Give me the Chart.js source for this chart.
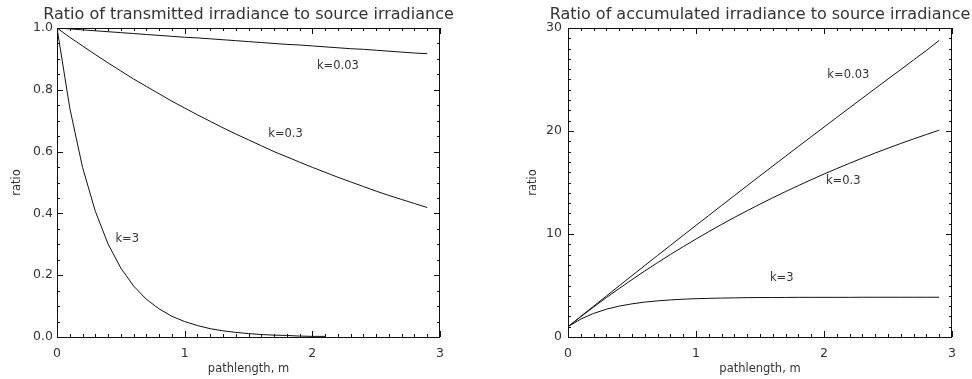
<!DOCTYPE html>
<html>
<head>
<meta charset="utf-8">
<script src="https://cdn.jsdelivr.net/npm/chart.js@4.4.1/dist/chart.umd.min.js"></script>
<style>
  html, body { margin: 0; padding: 0; background: #fff; }
  #wrap { position: relative; width: 972px; height: 379px; overflow: hidden; background: #fff; }
  canvas { position: absolute; top: 0; }
  #c1 { left: 0; }
  #c2 { left: 486px; }
</style>
</head>
<body>
<div id="wrap">
  <canvas id="c1" width="486" height="379"></canvas>
  <canvas id="c2" width="486" height="379"></canvas>
</div>
<script>
// ---------------- data ----------------
const pathlength = [0.0,0.1,0.2,0.3,0.4,0.5,0.6,0.7,0.8,0.9,1.0,1.1,1.2,1.3,1.4,1.5,1.6,1.7,1.8,1.9,2.0,2.1,2.2,2.3,2.4,2.5,2.6,2.7,2.8,2.9];

const transK003 = [1.000,0.997,0.994,0.991,0.988,0.985,0.982,0.979,0.976,0.973,0.970,0.968,0.965,0.962,0.959,0.956,0.953,0.950,0.947,0.945,0.942,0.939,0.936,0.933,0.931,0.928,0.925,0.922,0.919,0.917];
const transK03  = [1.000,0.970,0.942,0.914,0.887,0.861,0.835,0.811,0.787,0.763,0.741,0.719,0.698,0.677,0.657,0.638,0.619,0.600,0.583,0.566,0.549,0.533,0.517,0.502,0.487,0.472,0.458,0.445,0.432,0.419];
const transK3   = [1.000,0.741,0.549,0.407,0.301,0.223,0.165,0.122,0.091,0.067,0.050,0.037,0.027,0.020,0.015,0.011,0.008,0.006,0.005,0.003,0.002,0.002];

const accK003 = [1.00,2.00,2.99,3.98,4.97,5.96,6.94,7.92,8.89,9.87,10.84,11.80,12.77,13.73,14.69,15.65,16.60,17.55,18.50,19.44,20.38,21.32,22.26,23.19,24.12,25.05,25.97,26.90,27.82,28.80];
const accK03  = [1.00,1.97,2.91,3.83,4.71,5.57,6.41,7.22,8.01,8.77,9.51,10.23,10.93,11.61,12.26,12.90,13.52,14.12,14.70,15.27,15.82,16.35,16.87,17.37,17.86,18.33,18.79,19.23,19.66,20.08];
const accK3   = [1.00,1.74,2.29,2.70,3.00,3.22,3.39,3.51,3.60,3.67,3.72,3.75,3.78,3.80,3.82,3.83,3.83,3.84,3.85,3.85,3.85,3.85,3.85,3.86,3.86,3.86,3.86,3.86,3.86,3.86];

const seriesNames = ['k=0.03', 'k=0.3', 'k=3'];

const xTickLabels      = ['0', '1', '2', '3'];
const yTickLabelsLeft  = ['0.0', '0.2', '0.4', '0.6', '0.8', '1.0'];
const yTickLabelsRight = ['0', '10', '20', '30'];

const titleLeft  = 'Ratio of transmitted irradiance to source irradiance';
const titleRight = 'Ratio of accumulated irradiance to source irradiance';
const xTitle = 'pathlength, m';
const yTitle = 'ratio';

// ---------------- styling / helpers ----------------
Chart.defaults.font.family = '"DejaVu Sans", sans-serif';
Chart.defaults.color = '#333';
const INK = '#111';
const TEXT = '#333';

function pts(ys) { return ys.map((y, i) => ({ x: pathlength[i], y })); }

function ds(label, ys) {
  return {
    label, data: pts(ys),
    borderColor: INK, borderWidth: 1, pointRadius: 0, tension: 0, fill: false
  };
}

// inward tick marks on all four sides + frame + panel title, drawn from the chart's scales
const frameTicks = {
  id: 'frameTicks',
  afterDraw(chart, args, o) {
    const { ctx, chartArea: { left, right, top, bottom } } = chart;
    const xs = chart.scales.x, ys = chart.scales.y;
    ctx.save();
    ctx.strokeStyle = INK;
    ctx.lineWidth = 1;
    ctx.beginPath();
    const nx = Math.round((xs.max - xs.min) / o.xMinor);
    const perX = Math.round(o.xMajor / o.xMinor);
    for (let i = 0; i <= nx; i++) {
      const v = xs.min + i * o.xMinor;
      const len = (i % perX === 0) ? 6 : 3;
      const px = Math.round(xs.getPixelForValue(v)) + 0.5;
      ctx.moveTo(px, bottom); ctx.lineTo(px, bottom - len);
      ctx.moveTo(px, top); ctx.lineTo(px, top + len);
    }
    const ny = Math.round((ys.max - ys.min) / o.yMinor);
    const perY = Math.round(o.yMajor / o.yMinor);
    for (let i = 0; i <= ny; i++) {
      const v = ys.min + i * o.yMinor;
      const len = (i % perY === 0) ? 6 : 3;
      const py = Math.round(ys.getPixelForValue(v)) + 0.5;
      ctx.moveTo(left, py); ctx.lineTo(left + len, py);
      ctx.moveTo(right, py); ctx.lineTo(right - len, py);
    }
    ctx.stroke();
    ctx.strokeRect(Math.round(left) + 0.5, Math.round(top) + 0.5,
                   Math.round(right - left) - 1, Math.round(bottom - top));
    // curve labels placed in data coordinates
    ctx.fillStyle = TEXT;
    ctx.font = '11.5px "DejaVu Sans", sans-serif';
    ctx.textAlign = 'center';
    ctx.textBaseline = 'middle';
    o.labels.forEach(l => {
      ctx.fillText(l.text, xs.getPixelForValue(l.x), ys.getPixelForValue(l.y));
    });
    // panel title centred over the plot area
    ctx.font = '16px "DejaVu Sans", sans-serif';
    ctx.fillText(o.title, (left + right) / 2, 15);
    ctx.restore();
  }
};

function makeChart(id, cfg) {
  return new Chart(document.getElementById(id), {
    type: 'line',
    data: { datasets: cfg.datasets },
    options: {
      responsive: false,
      animation: false,
      events: [],
      layout: { padding: { left: 0, right: cfg.padRight, top: 28, bottom: 0 } },
      plugins: {
        legend: { display: false },
        tooltip: { enabled: false },
        title: { display: false },
        frameTicks: cfg.ticks
      },
      scales: {
        x: {
          type: 'linear', min: 0, max: 3,
          grid: { display: false, drawTicks: false },
          border: { display: false },
          ticks: {
            stepSize: 1, padding: 9, color: TEXT, font: { size: 12.5 },
            callback: (v) => xTickLabels[Math.round(v)]
          },
          title: { display: true, text: xTitle, color: TEXT, font: { size: 11.5 }, padding: { top: 0, bottom: 3 } },
          afterFit(s) { s.height = 42; }
        },
        y: {
          type: 'linear', min: cfg.yMin, max: cfg.yMax,
          grid: { display: false, drawTicks: false },
          border: { display: false },
          ticks: {
            stepSize: cfg.yStep, padding: cfg.yTickPad, color: TEXT, font: { size: 12.5 },
            callback: (v) => cfg.yLabels[Math.round((v - cfg.yMin) / cfg.yStep)]
          },
          title: { display: true, text: yTitle, color: TEXT, font: { size: 11.5 }, padding: { top: cfg.yTitlePad, bottom: 0 } },
          afterFit(s) { s.width = cfg.yWidth; }
        }
      }
    },
    plugins: [frameTicks]
  });
}

makeChart('c1', {
  datasets: [ds(seriesNames[0], transK003), ds(seriesNames[1], transK03), ds(seriesNames[2], transK3)],
  padRight: 46, yWidth: 57, yTitlePad: 10, yTickPad: 4,
  yMin: 0, yMax: 1, yStep: 0.2, yLabels: yTickLabelsLeft,
  ticks: {
    title: titleLeft,
    xMinor: 0.1, xMajor: 1, yMinor: 0.05, yMajor: 0.2,
    labels: [
      { text: seriesNames[0], x: 2.2, y: 0.877 },
      { text: seriesNames[1], x: 1.79, y: 0.657 },
      { text: seriesNames[2], x: 0.55, y: 0.317 }
    ]
  }
});

makeChart('c2', {
  datasets: [ds(seriesNames[0], accK003), ds(seriesNames[1], accK03), ds(seriesNames[2], accK3)],
  padRight: 20, yWidth: 82, yTitlePad: 40, yTickPad: 6,
  yMin: 0, yMax: 30, yStep: 10, yLabels: yTickLabelsRight,
  ticks: {
    title: titleRight,
    xMinor: 0.1, xMajor: 1, yMinor: 1, yMajor: 10,
    labels: [
      { text: seriesNames[0], x: 2.19, y: 25.4 },
      { text: seriesNames[1], x: 2.15, y: 15.1 },
      { text: seriesNames[2], x: 1.67, y: 5.7 }
    ]
  }
});
</script>
</body>
</html>
